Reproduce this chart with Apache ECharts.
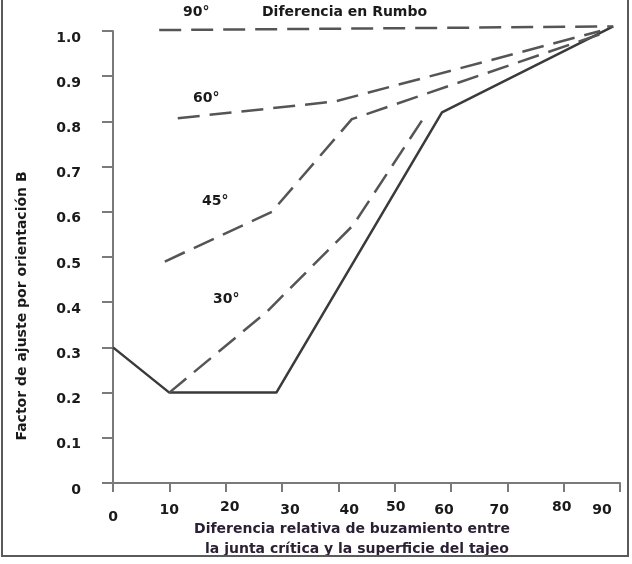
<!DOCTYPE html>
<html>
<head>
<meta charset="utf-8">
<script src="https://cdn.jsdelivr.net/npm/echarts@6/dist/echarts.min.js"></script>
<style>
  html, body { margin: 0; padding: 0; background: #fff; }
  #chart { width: 632px; height: 564px; }
</style>
</head>
<body>
<div id="chart"></div>
<script>
// x ticks and y ticks
const xTicks = [0, 10, 20, 30, 40, 50, 60, 70, 80, 90];
const yTicks = [0, 0.1, 0.2, 0.3, 0.4, 0.5, 0.6, 0.7, 0.8, 0.9, 1.0];

// curves: [dip difference, factor B]
const curveSolid = [[0, 0.3], [10, 0.2], [29, 0.2], [58.4, 0.82], [88.8, 1.01]];
const curve30 = [[10, 0.2], [27.4, 0.38], [42.6, 0.57], [55.8, 0.82]];
const curve45 = [[9.2, 0.49], [28.2, 0.6], [42.4, 0.805], [87, 0.995]];
const curve60 = [[11.5, 0.807], [39.4, 0.844], [86.5, 1.0]];
const curve90 = [[8.2, 1.002], [88.8, 1.01]];

const chart = echarts.init(document.getElementById('chart'));

const font = '"DejaVu Sans", Verdana, sans-serif';
const dashStyle = { color: '#555', width: 2.5, type: [22, 10] };

const mkLine = (name, data, lineStyle) => ({
  name,
  type: 'line',
  data,
  symbol: 'none',
  clip: false,
  lineStyle,
  z: 3
});

// the scanned x labels sit a little off their ticks: [dx, extra top]
const xNudge = {
  0: [0, 10], 10: [0, 3], 20: [4, 0], 30: [8, 3], 40: [11, 3],
  50: [1, 0], 60: [-7, 3], 70: [-8, 3], 80: [-2, 0], 90: [-18, 3]
};
const xRich = {};
xTicks.forEach(t => {
  const [dx, top] = xNudge[t];
  xRich['t' + t] = {
    fontFamily: font, fontWeight: 'bold', fontSize: 14, color: '#1a1a1a',
    padding: [top, Math.max(-dx, 0) * 2, 0, Math.max(dx, 0) * 2]
  };
});

const option = {
  backgroundColor: '#fff',
  animation: false,
  textStyle: { fontFamily: font },
  grid: { left: 113, right: 12, top: 31, bottom: 81 },
  xAxis: {
    type: 'value',
    min: 0,
    max: 90,
    interval: 10,
    axisLine: { show: true, lineStyle: { color: '#7a7a7a', width: 2 } },
    axisTick: { show: true, length: 9, lineStyle: { color: '#7a7a7a', width: 2 } },
    splitLine: { show: false },
    axisLabel: {
      margin: 17,
      formatter: v => xTicks.includes(v) ? '{t' + v + '|' + v + '}' : '',
      rich: xRich
    }
  },
  yAxis: {
    type: 'value',
    min: 0,
    max: 1,
    interval: 0.1,
    axisLine: { show: true, lineStyle: { color: '#7a7a7a', width: 2 } },
    axisTick: { show: true, length: 11, lineStyle: { color: '#7a7a7a', width: 2 } },
    splitLine: { show: false },
    axisLabel: {
      margin: 32,
      formatter: v => {
        const t = yTicks.find(y => Math.abs(y - v) < 1e-6);
        if (t === undefined) return '';
        return '{y|' + (t === 0 ? '0' : t.toFixed(1)) + '}';
      },
      rich: {
        y: {
          fontFamily: font, fontWeight: 'bold', fontSize: 14, color: '#1a1a1a',
          padding: [14, 0, 0, 0]
        }
      }
    }
  },
  series: [
    mkLine('solid', curveSolid, { color: '#3a3a3a', width: 2.5, type: 'solid' }),
    mkLine('30°', curve30, dashStyle),
    mkLine('45°', curve45, dashStyle),
    mkLine('60°', curve60, dashStyle),
    mkLine('90°', curve90, dashStyle)
  ],
  graphic: [
    {
      type: 'rect', silent: true, z: 10,
      shape: { x: 2, y: -4, width: 626, height: 560 },
      style: { fill: 'none', stroke: '#5a5a5a', lineWidth: 2 }
    },
    { type: 'text', left: 183, top: 5, style: { text: '90°', font: 'bold 14px ' + font, fill: '#1a1a1a' } },
    { type: 'text', left: 262, top: 5, style: { text: 'Diferencia en Rumbo', font: 'bold 14px ' + font, fill: '#1a1a1a' } },
    { type: 'text', left: 193, top: 91, style: { text: '60°', font: 'bold 14px ' + font, fill: '#1a1a1a' } },
    { type: 'text', left: 202, top: 194, style: { text: '45°', font: 'bold 14px ' + font, fill: '#1a1a1a' } },
    { type: 'text', left: 213, top: 292, style: { text: '30°', font: 'bold 14px ' + font, fill: '#1a1a1a' } },
    {
      type: 'text', x: 22, y: 306, rotation: Math.PI / 2,
      style: {
        text: 'Factor de ajuste por orientación B', font: 'bold 14px ' + font,
        fill: '#1a1a1a', align: 'center', verticalAlign: 'middle'
      }
    },
    {
      type: 'text', x: 352, y: 529,
      style: {
        text: 'Diferencia relativa de buzamiento entre', font: 'bold 14px ' + font,
        fill: '#2a1f33', align: 'center', verticalAlign: 'middle'
      }
    },
    {
      type: 'text', x: 357, y: 549,
      style: {
        text: 'la junta crítica y la superficie del tajeo', font: 'bold 14px ' + font,
        fill: '#2a1f33', align: 'center', verticalAlign: 'middle'
      }
    }
  ]
};

chart.setOption(option);
</script>
</body>
</html>
